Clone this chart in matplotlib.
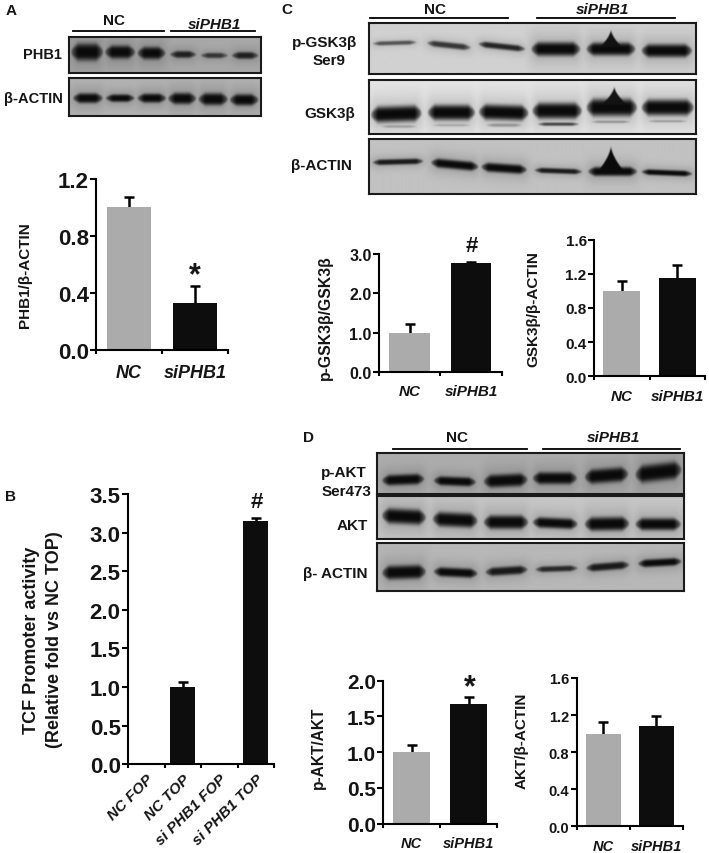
import numpy as np
import matplotlib
matplotlib.use("Agg")
import matplotlib.pyplot as plt

plt.rcParams['font.family'] = ['Liberation Sans', 'DejaVu Sans']
plt.rcParams['font.weight'] = 'bold'

W, H = 709, 854
GREY = '#ABABAB'
BLACK = '#0D0D0D'
TXT = '#151515'

# bar chart data
groups = ['NC', 'siPHB1']
a_vals = [1.0, 0.33]
a_tops = [1.07, 0.45]
b_cats = ['NC FOP', 'NC TOP', 'si PHB1 FOP', 'si PHB1 TOP']
b_vals = [0.01, 1.0, 0.01, 3.15]
b_tops = [0.01, 1.06, 0.01, 3.19]
c1_vals = [1.0, 2.76]
c1_tops = [1.23, 2.80]
c2_vals = [1.0, 1.15]
c2_tops = [1.12, 1.30]
d1_vals = [1.0, 1.67]
d1_tops = [1.10, 1.77]
d2_vals = [1.0, 1.08]
d2_tops = [1.13, 1.19]

a_phb1 = [(212, 310, 160, 160, 44, 1), (314, 406, 160, 160, 34, 1), (411, 497, 163, 163, 32, 1),
          (509, 589, 167, 167, 18, .85), (601, 684, 170, 170, 14, .7), (694, 776, 170, 170, 18, .85)]
a_actin = [(218, 309, 297, 297, 26, 1), (316, 404, 297, 297, 20, 1), (411, 499, 297, 297, 24, 1),
           (503, 589, 298, 298, 30, 1), (594, 684, 300, 300, 32, 1), (688, 776, 302, 302, 30, 1)]
c_pgsk = [(306, 439, 134, 130, 11, .6), (469, 601, 132, 146, 16, .75), (623, 764, 135, 150, 16, .85),
          (781, 929, 150, 150, 36, 1), (946, 1094, 150, 150, 34, 1), (1111, 1264, 155, 155, 34, 1)]
c_gsk = [(301, 454, 347, 342, 42, 1), (471, 614, 340, 340, 40, 1), (624, 774, 338, 342, 40, 1),
         (784, 934, 335, 335, 42, 1), (946, 1099, 325, 325, 46, 1), (1111, 1269, 325, 325, 42, 1),
         (800, 925, 375, 375, 9, .7), (330, 440, 382, 382, 7, .25), (485, 600, 378, 378, 7, .2),
         (645, 755, 378, 378, 9, .3), (960, 1080, 368, 368, 7, .3), (1130, 1250, 366, 366, 7, .25)]
c_actin = [(306, 459, 490, 486, 15, .9), (481, 624, 490, 503, 24, 1), (631, 769, 503, 512, 24, 1),
           (791, 934, 513, 518, 14, .9), (951, 1099, 517, 517, 24, 1), (1111, 1264, 518, 524, 15, 1)]
# smeared spikes on lane 5 of panel C: x centre, y top, y bottom, half width, darkness
c_pgsk_spike = [(1020, 92, 145, 34, 0.95)]
c_gsk_spike = [(1030, 262, 320, 42, 0.95)]
c_actin_spike = [(1020, 440, 515, 38, 1.0)]
d_pakt = [(246, 374, 185, 180, 28, 1), (401, 529, 185, 190, 24, 1), (551, 684, 188, 182, 34, 1),
          (698, 832, 178, 178, 32, 1), (854, 986, 175, 165, 38, 1), (1006, 1146, 168, 152, 46, 1)]
d_akt = [(246, 379, 290, 296, 40, 1), (398, 534, 300, 306, 38, 1), (551, 686, 310, 310, 36, 1),
         (698, 834, 310, 316, 28, 1), (854, 989, 316, 314, 36, 1), (1006, 1144, 316, 316, 32, 1)]
d_actin = [(246, 379, 462, 458, 36, 1), (401, 534, 458, 464, 24, 1), (556, 684, 460, 452, 22, .9),
           (706, 834, 452, 448, 15, .8), (858, 989, 448, 438, 20, .9), (1014, 1146, 435, 428, 20, 1)]

fig = plt.figure(figsize=(W / 100, H / 100), dpi=100)


def px_axes(x0, y0, x1, y1):
    return fig.add_axes([x0 / W, 1 - y1 / H, (x1 - x0) / W, (y1 - y0) / H])


# overlay for labels and the group lines, in reference pixels
ov = px_axes(0, 0, W, H)
ov.set_xlim(0, W)
ov.set_ylim(H, 0)
ov.axis('off')
ov.set_zorder(5)


def label(x, y, s, size=11, **kw):
    kw.setdefault('ha', 'center')
    kw.setdefault('va', 'center')
    ov.text(x, y, s, fontsize=size, color=TXT, **kw)


def soften(img, n=5):
    # plain box blur, the film scans are soft
    kern = np.ones(n) / n
    pad = np.pad(img, n, mode='edge')
    pad = np.apply_along_axis(lambda r: np.convolve(r, kern, mode='same'), 0, pad)
    pad = np.apply_along_axis(lambda r: np.convolve(r, kern, mode='same'), 1, pad)
    return pad[n:-n, n:-n]


def blot(x0, y0, x1, y1, ox, oy, bg, bands, spikes=()):
    # grid in crop pixels, bands darken the film background
    xs = np.arange((x0 - ox) * 3, (x1 - ox) * 3)
    ys = np.arange((y0 - oy) * 3, (y1 - oy) * 3)
    xx, yy = np.meshgrid(xs, ys)
    dark = np.zeros(xx.shape)
    halo = np.zeros(xx.shape)
    for xl, xr, yl, yr, th, d in bands:
        yc = yl + (yr - yl) * (xx - xl) / (xr - xl)
        sx = np.clip((xx - xl) / 22, 0, 1) * np.clip((xr - xx) / 22, 0, 1)
        tw = th / 2 * np.sqrt(sx) + 0.01
        sy = np.exp(-0.69 * (np.abs(yy - yc) / tw) ** 3.5)
        dark = np.maximum(dark, d * np.sqrt(sx) * sy)
        hx = np.clip((xx - xl + 25) / 40, 0, 1) * np.clip((xr - xx + 25) / 40, 0, 1)
        halo = np.maximum(halo, 0.16 * d * hx * np.exp(-((yy - yc) / (th * 1.4)) ** 2))
    for xc, yt, yb, hw, d in spikes:
        f = np.clip((yy - yt) / (yb - yt), 0, 1)
        w = hw * f ** 1.6 + 0.01
        dark = np.maximum(dark, d * (np.abs(xx - xc) < w) * (yy > yt) * (yy < yb + 8))
    base = bg * (1 - halo)
    img = soften(base * (1 - dark) + 0.04 * dark)
    ax = px_axes(x0, y0, x1, y1)
    ax.imshow(img, cmap='gray', vmin=0, vmax=1, aspect='auto', interpolation='bilinear')
    ax.set_xticks([])
    ax.set_yticks([])
    for s in ax.spines.values():
        s.set_linewidth(1.5)
        s.set_color('#1A1A1A')


def bars(box, ymax, yticks, fmt, vals, tops, cats, size, cat_size, pad, width=0.66, colors=(GREY, BLACK), rot=0):
    x0, y0, x1, y1 = box
    ax = px_axes(x0, y0, x1, y1)
    pos = np.arange(len(vals)) + 0.5
    ax.bar(pos, vals, width=width, color=colors, zorder=2)
    ax.vlines(pos, vals, tops, color='black', linewidth=1.8, zorder=1)
    ax.plot(pos, tops, linestyle='none', marker='_', markersize=7, markeredgewidth=1.8, color='black', zorder=1)
    ax.set_xlim(0, len(vals))
    ax.set_ylim(0, ymax)
    ax.spines['top'].set_visible(False)
    ax.spines['right'].set_visible(False)
    ax.spines['left'].set_linewidth(1.5)
    ax.spines['bottom'].set_linewidth(1.5)
    ax.set_yticks(yticks)
    ax.set_yticklabels([fmt % t for t in yticks], fontsize=size, color=TXT)
    ax.set_xticks(np.arange(len(vals) + 1))
    ax.set_xticklabels([])
    ax.set_xticks(pos, minor=True)
    if rot:
        ax.set_xticklabels(cats, minor=True, fontsize=cat_size, style='italic', color=TXT,
                           rotation=rot, ha='right', rotation_mode='anchor')
    else:
        ax.set_xticklabels(cats, minor=True, fontsize=cat_size, style='italic', color=TXT)
    ax.tick_params(axis='y', length=4.3, width=1.5, pad=1)
    ax.tick_params(axis='x', which='major', length=3, width=1.5)
    ax.tick_params(axis='x', which='minor', length=0, pad=pad)
    ax.patch.set_alpha(0)
    return ax


# panel A
blot(69, 37.7, 261, 74, 0, 0, 0.66, a_phb1)
blot(69, 79, 261, 116.7, 0, 0, 0.7, a_actin)
bars((96, 180, 228, 350.7), 1.2, [0, 0.4, 0.8, 1.2], '%.1f', a_vals, a_tops, groups, 16, 13, 10.5)
label(11, 11, 'A', 11)
label(114, 21, 'NC', 11)
label(215, 25, 'siPHB1', 11, style='italic')
ov.plot([72.7, 164], [32.3, 32.3], color='black', lw=1.3)
ov.plot([170.7, 255], [32, 32], color='black', lw=1.3)
label(62, 55, 'PHB1', 10.5, ha='right')
label(63, 98.7, 'β-ACTIN', 10.5, ha='right')
label(25, 275, 'PHB1/β-ACTIN', 11, rotation=90)
label(195, 276, '*', 22)

# panel B
bars((128, 495, 274, 765.3), 3.5, [0, 0.5, 1, 1.5, 2, 2.5, 3, 3.5], '%.1f', b_vals, b_tops, b_cats, 16, 11, 5,
     width=0.68, colors=BLACK, rot=45)
label(11, 497, 'B', 11)
label(32, 640, 'TCF Promoter activity', 13, rotation=90)
label(55, 640, '(Relative fold vs NC TOP)', 13, rotation=90)
label(257, 503, '#', 16)

# panel C
blot(368.7, 24.3, 696, 74.7, 270, 0, 0.82, c_pgsk, c_pgsk_spike)
blot(368.7, 81, 696, 135, 270, 0, 0.9, c_gsk, c_gsk_spike)
blot(368.7, 140, 696, 194.7, 270, 0, 0.76, c_actin, c_actin_spike)
bars((379, 255, 501.7, 373), 3, [0, 1, 2, 3], '%.1f', c1_vals, c1_tops, groups, 11.5, 11, 9)
bars((594, 240.7, 705, 377.3), 1.6, [0, 0.4, 0.8, 1.2, 1.6], '%.1f', c2_vals, c2_tops, groups, 11, 11, 9)
label(287, 10, 'C', 11)
label(435, 10, 'NC', 11)
label(603, 10, 'siPHB1', 11, style='italic')
ov.plot([370, 508.3], [19, 19], color='black', lw=1.3)
ov.plot([537, 675], [18.5, 18.5], color='black', lw=1.3)
label(325, 43, 'p-GSK3β', 11)
label(329, 61, 'Ser9', 11)
label(329.3, 114, 'GSK3β', 11)
label(321.7, 165.7, 'β-ACTIN', 11)
label(325, 318, 'p-GSK3β/GSK3β', 11.3, rotation=90)
label(533, 309, 'GSK3β/β-ACTIN', 11, rotation=90)
label(471.7, 247, '#', 16)

# panel D
blot(377.3, 454.3, 684, 495, 300, 420, 0.68, d_pakt)
blot(377.3, 497.3, 684, 540, 300, 420, 0.78, d_akt)
blot(377.3, 543.7, 684, 592, 300, 420, 0.72, d_actin)
bars((383.3, 681.7, 497, 824.7), 2, [0, 0.5, 1, 1.5, 2], '%.1f', d1_vals, d1_tops, groups, 15, 10.5, 9)
bars((576.7, 679, 683, 827.3), 1.6, [0, 0.4, 0.8, 1.2, 1.6], '%.1f', d2_vals, d2_tops, groups, 10.5, 10.5, 9)
label(308, 438, 'D', 11)
label(457, 438, 'NC', 11)
label(614, 438, 'siPHB1', 11, style='italic')
ov.plot([392.7, 526.7], [450, 450], color='black', lw=1.3)
ov.plot([543.3, 680], [450, 450], color='black', lw=1.3)
label(344, 473, 'p-AKT', 11)
label(346.7, 491.7, 'Ser473', 11)
label(368, 526, 'AKT', 11, ha='right')
label(335, 574, 'β- ACTIN', 11)
label(318, 748, 'p-AKT/AKT', 11.2, rotation=90)
label(521.7, 741, 'AKT/β-ACTIN', 11, rotation=90)
label(470, 688, '*', 22)

fig.savefig('out.png', dpi=100, facecolor='white')
